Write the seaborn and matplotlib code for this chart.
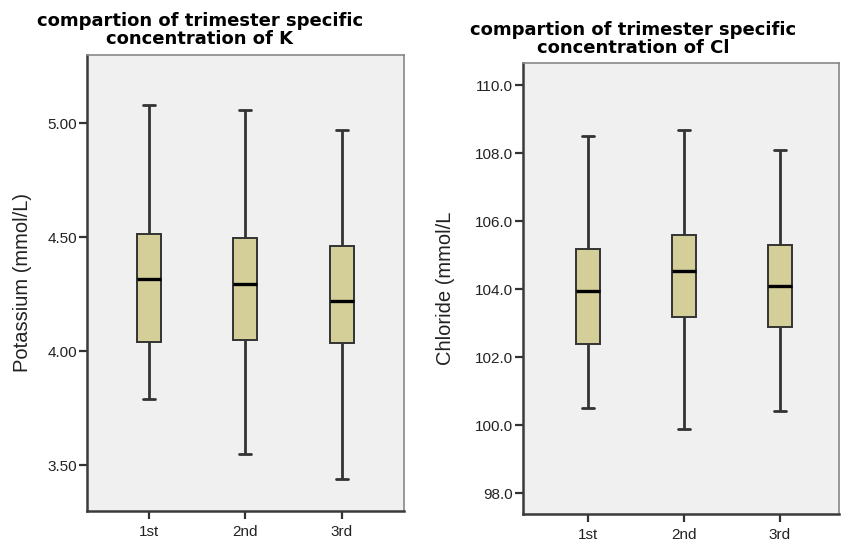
import matplotlib
matplotlib.use("Agg")
import matplotlib.pyplot as plt
import numpy as np
import pandas as pd
import seaborn as sns
from matplotlib.ticker import FormatStrFormatter

# Trimester groups
trimesters = ["1st", "2nd", "3rd"]

# Potassium (mmol/L): five-number summaries per trimester
k_min = [3.79, 3.55, 3.44]
k_q1 = [4.04, 4.05, 4.035]
k_med = [4.315, 4.297, 4.22]
k_q3 = [4.515, 4.495, 4.46]
k_max = [5.08, 5.06, 4.97]

# Chloride (mmol/L): five-number summaries per trimester
cl_min = [100.5, 99.9, 100.41]
cl_q1 = [102.4, 103.2, 102.9]
cl_med = [103.95, 104.55, 104.1]
cl_q3 = [105.2, 105.6, 105.3]
cl_max = [108.5, 108.7, 108.1]

k_ticks = [3.50, 4.00, 4.50, 5.00]
cl_ticks = [98.0, 100.0, 102.0, 104.0, 106.0, 108.0, 110.0]


def summary_frame(mins, q1s, meds, q3s, maxs):
    rows = []
    for i, t in enumerate(trimesters):
        for v in (mins[i], q1s[i], meds[i], q3s[i], maxs[i]):
            rows.append({"trimester": t, "value": v})
    return pd.DataFrame(rows)


k_df = summary_frame(k_min, k_q1, k_med, k_q3, k_max)
cl_df = summary_frame(cl_min, cl_q1, cl_med, cl_q3, cl_max)

sns.set_style("white")
plt.rcParams["font.family"] = ["Liberation Sans", "DejaVu Sans"]

fig = plt.figure(figsize=(8.41, 5.44), dpi=100)
fig.patch.set_facecolor("white")

ax1 = fig.add_axes([0.1034, 0.0612, 0.3770, 0.8377])
ax2 = fig.add_axes([0.6215, 0.0546, 0.3761, 0.8290])

box_fill = "#D4CF98"
edge = "#333333"


def draw(ax, df, ticks, ylim, xlim, fmt, ylabel, label_x):
    sns.boxplot(data=df, x="trimester", y="value", order=trimesters, ax=ax,
                whis=(0, 100), width=0.25, color=box_fill, saturation=1,
                linecolor=edge, linewidth=1.4,
                medianprops=dict(color="black", linewidth=2.4),
                whiskerprops=dict(color=edge, linewidth=2.0),
                capprops=dict(color=edge, linewidth=2.0))
    ax.set_facecolor("#F0F0F0")
    ax.set_ylim(*ylim)
    ax.set_xlim(*xlim)
    ax.set_yticks(ticks)
    ax.yaxis.set_major_formatter(FormatStrFormatter(fmt))
    ax.set_xlabel("")
    ax.set_ylabel(ylabel, fontsize=14.5, color="#222222")
    ax.yaxis.set_label_coords(label_x, 0.5)
    ax.tick_params(axis="both", direction="out", length=6, width=1.6,
                   color="#333333", labelsize=11, labelcolor="#222222", pad=1,
                   left=True, bottom=True, right=False, top=False)
    ax.tick_params(axis="x", pad=4)
    for side in ("left", "bottom"):
        ax.spines[side].set_color("#3a3a3a")
        ax.spines[side].set_linewidth(1.8)
    for side in ("top", "right"):
        ax.spines[side].set_color("#888888")
        ax.spines[side].set_linewidth(1.2)


draw(ax1, k_df, k_ticks, (3.30, 5.30), (-0.65, 2.65), "%.2f",
     "Potassium (mmol/L)", -0.173)
draw(ax2, cl_df, cl_ticks, (97.38, 110.65), (-0.68, 2.62), "%.1f",
     "Chloride (mmol/L", -0.214)

fig.text(200 / 841, 1 - 30 / 544, "compartion of trimester specific\nconcentration of K",
         ha="center", va="center", fontsize=13, fontweight="bold",
         family="DejaVu Sans", linespacing=1.0, color="black")
fig.text(633 / 841, 1 - 39 / 544, "compartion of trimester specific\nconcentration of Cl",
         ha="center", va="center", fontsize=13, fontweight="bold",
         family="DejaVu Sans", linespacing=1.0, color="black")

fig.savefig("out.png", dpi=100, facecolor="white")
